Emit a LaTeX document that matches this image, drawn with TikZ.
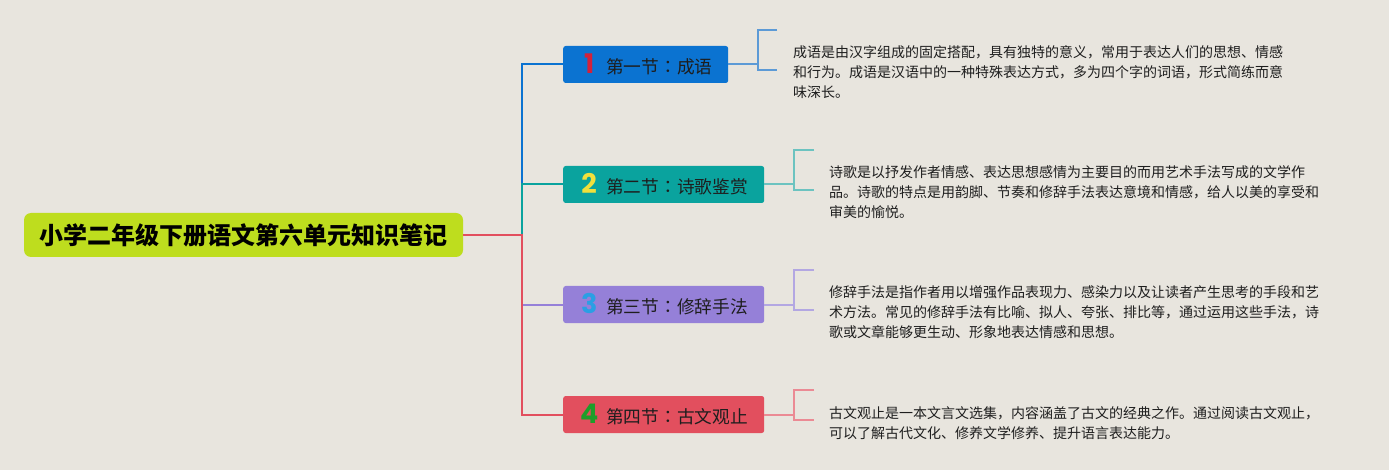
\documentclass[tikz,border=0pt]{standalone}
\usepackage{fontspec}
\setmainfont{Noto Sans CJK SC}
\newfontfamily\tcfont{Noto Sans CJK TC}
\newfontfamily\numfont{Poppins}
\definecolor{bg}{HTML}{E8E5DE}
\definecolor{rootc}{HTML}{BEDD1E}
\definecolor{cblue}{HTML}{0B73D1}
\definecolor{cteal}{HTML}{0AA39E}
\definecolor{cpurp}{HTML}{9580D8}
\definecolor{cred}{HTML}{E24F5E}
\definecolor{lblue}{HTML}{5C9AD6}
\definecolor{lteal}{HTML}{6CC3C0}
\definecolor{lpurp}{HTML}{B3A7E2}
\definecolor{lred}{HTML}{EB8A94}
\definecolor{nred}{HTML}{D4213A}
\definecolor{nyel}{HTML}{F0E03C}
\definecolor{nblu}{HTML}{2A9FE4}
\definecolor{ngrn}{HTML}{1E9E2A}
\definecolor{txt}{HTML}{1E1E1E}
\begin{document}
\begin{tikzpicture}[x=1pt,y=-1pt,
  rootbox/.style={fill=rootc,rounded corners=7pt,minimum width=439pt,minimum height=44pt,inner sep=0pt,
     font=\fontsize{24}{27}\selectfont\bfseries,text=black},
  secbox/.style={rounded corners=2.5pt,minimum height=37pt,inner sep=0pt,anchor=west,
     font=\fontsize{17.7}{20}\selectfont,text=txt},
  para/.style={anchor=west,align=left,inner sep=0pt,text=txt,font=\fontsize{14}{20}\selectfont},
  conn/.style={line width=2pt},
  brk/.style={line width=2pt}
]
\useasboundingbox (0,0) rectangle (1389,470);
\fill[bg] (0,0) rectangle (1389,470);

% root
\node[rootbox] (root) at (243.5,235) {小学二年级下册语文第六单元知识笔记};
\coordinate (hub) at (522,235);

% section boxes
\newcommand{\seclabel}[4]{\makebox[#1][l]{\hspace{18pt}\makebox[16pt][c]{\numfont\fontsize{27}{27}\selectfont\bfseries\color{#2}#3}\hspace{9pt}#4}}
\node[secbox,fill=cblue] (b1) at (563,64.5) {\seclabel{165pt}{nred}{1}{第一节{\tcfont：}成语}};
\node[secbox,fill=cteal] (b2) at (563,184.5) {\seclabel{201pt}{nyel}{2}{第二节{\tcfont：}诗歌鉴赏}};
\node[secbox,fill=cpurp] (b3) at (563,304.5) {\seclabel{201pt}{nblu}{3}{第三节{\tcfont：}修辞手法}};
\node[secbox,fill=cred] (b4) at (563,414.5) {\seclabel{201pt}{ngrn}{4}{第四节{\tcfont：}古文观止}};

% connectors from root
\draw[conn,cblue] (hub) |- (b1.west);
\draw[conn,cteal] (hub) |- (b2.west);
\draw[conn,cpurp] (hub) |- (b3.west);
\draw[conn,cred] (root.east) -- (hub) |- (b4.west);

% brackets
\coordinate (k1) at (758,64.5);
\coordinate (k2) at (794,184.5);
\coordinate (k3) at (794,304.5);
\coordinate (k4) at (794,414.5);
\draw[brk,lblue] (b1.east) -- (k1);
\draw[brk,lblue] (777,30) -- (758,30) -- (758,70) -- (777,70);
\draw[brk,lteal] (b2.east) -- (k2);
\draw[brk,lteal] (814,150) -- (794,150) -- (794,190) -- (814,190);
\draw[brk,lpurp] (b3.east) -- (k3);
\draw[brk,lpurp] (814,270) -- (794,270) -- (794,310) -- (814,310);
\draw[brk,lred] (b4.east) -- (k4);
\draw[brk,lred] (814,390) -- (794,390) -- (794,420) -- (814,420);

% paragraphs
\node[para] (p1) at (793,72) {成语是由汉字组成的固定搭配，具有独特的意义，常用于表达人们的思想、情感\\和行为。成语是汉语中的一种特殊表达方式，多为四个字的词语，形式简练而意\\味深长。};
\node[para] (p2) at (829,192) {诗歌是以抒发作者情感、表达思想感情为主要目的而用艺术手法写成的文学作\\品。诗歌的特点是用韵脚、节奏和修辞手法表达意境和情感，给人以美的享受和\\审美的愉悦。};
\node[para] (p3) at (829,312) {修辞手法是指作者用以增强作品表现力、感染力以及让读者产生思考的手段和艺\\术方法。常见的修辞手法有比喻、拟人、夸张、排比等，通过运用这些手法，诗\\歌或文章能够更生动、形象地表达情感和思想。};
\node[para] (p4) at (829,423) {古文观止是一本文言文选集，内容涵盖了古文的经典之作。通过阅读古文观止，\\可以了解古代文化、修养文学修养、提升语言表达能力。};
\end{tikzpicture}
\end{document}
